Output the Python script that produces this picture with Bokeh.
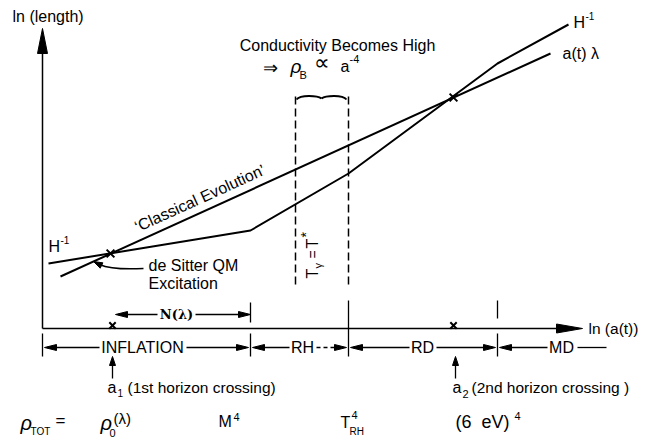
import math
from bokeh.plotting import figure
from bokeh.models import Range1d
from bokeh.core.properties import value
from bokeh.embed import file_html
from bokeh.resources import INLINE

# ---------------- schematic data (ln units, origin at the axes crossing) -------------
epoch_names = ["INFLATION", "RH", "RD", "MD"]
epoch_edges = [0, 208, 306, 455, 564]
epoch_label_x = [100, 260, 380, 519]
timeline_y = -19

# comoving length a(t)*lambda : straight line
al_x = [18, 508]
al_y = [52, 275]
# Hubble length H^-1 : flat during inflation, then steeper (RH, RD, MD)
h_x = [6, 208, 306, 455, 526]
h_y = [65, 98, 155, 265, 304]
# horizon crossings
cross_x = [68, 411]
cross_y = [75, 231]
axis_mark_x = [70, 411]

# dashed window (T_gamma = T_*)
win_x = [253, 306]
win_top, win_bot = 232, 40

FONT = "Liberation Sans"
NB = "\u00a0"

p = figure(width=647, height=443, x_range=Range1d(-42, 605), y_range=Range1d(-115, 328),
           output_backend="svg", toolbar_location=None, x_axis_type=None, y_axis_type=None,
           min_border=0, outline_line_color=None)
p.min_border_left = p.min_border_right = p.min_border_top = p.min_border_bottom = 0
p.background_fill_color = "white"

heads_x, heads_y = [], []


def head(tx, ty, dx, dy, L=12, W=3):
    n = math.hypot(dx, dy)
    ux, uy = dx / n, dy / n
    bx, by = tx - ux * L, ty - uy * L
    px, py = -uy * W, ux * W
    heads_x.append([tx, bx + px, bx - px])
    heads_y.append([ty, by + py, by - py])


def txt(x, y, s, size=16, align="left", baseline="middle", angle=0.0, font=FONT,
        style="normal"):
    p.text(x=[x], y=[y], text=[s], text_font=value(font), text_font_size=f"{size}px",
           text_align=align, text_baseline=baseline, angle=angle, text_color="black",
           text_font_style=style)


# ---------------- axes ----------------
p.line([0, 0], [0, 290], line_color="black", line_width=1.5)
head(0, 300, 0, 1, L=25, W=5)
p.line([0, 530], [0, 0], line_color="black", line_width=1.5)
head(540, 0, 1, 0, L=26, W=4.5)
txt(-30, 312, "ln (length)", 16)
txt(546, 0, "ln (a(t))", 15.5)

# ---------------- curves ----------------
p.line(al_x, al_y, line_color="black", line_width=2)
p.line(h_x, h_y, line_color="black", line_width=2)
p.scatter(cross_x, cross_y, marker="x", size=11, line_color="black", line_width=2)
p.scatter(axis_mark_x, [3, 3], marker="x", size=9, line_color="black", line_width=2)

txt(6, 82, "H", 16)
txt(18, 89, "-1", 10)
txt(531, 306, "H", 16)
txt(543, 313, "-1", 10)
txt(520, 275, "a(t) λ", 16)

ang = math.atan2(al_y[1] - al_y[0], al_x[1] - al_x[0])
cx = 163
cy = al_y[0] + (cx - al_x[0]) * math.tan(ang)
off = 5
txt(cx - off * math.sin(ang), cy + off * math.cos(ang), "‘Classical Evolution’", 16,
    align="center", baseline="bottom", angle=ang)

# de Sitter annotation with curved arrow
txt(106, 63, "de Sitter QM", 16)
txt(106, 45, "Excitation", 16)
p.bezier(x0=[101], y0=[60], x1=[57], y1=[64], cx0=[82], cy0=[59], cx1=[66], cy1=[60],
         line_color="black", line_width=1.5)
head(51, 67, -1, 0.5, L=9, W=3)

# ---------------- dashed window ----------------
for wx in win_x:
    p.line([wx, wx], [win_top, win_bot], line_color="black", line_width=1.5, line_dash="8 4")
p.bezier(x0=[254, 279], y0=[229, 230], x1=[279, 304], y1=[230, 229],
         cx0=[258, 283], cy0=[234, 233], cx1=[275, 300], cy1=[233, 234],
         line_color="black", line_width=2)
txt(295, 283, "Conductivity Becomes High", 16, align="center")
txt(220, 261, "⇒", 18)
txt(248, 262, "ρ", 19, style="italic")
txt(257, 254, "B", 11)
txt(271, 266, "∝", 22)
txt(298, 262, "a", 16)
txt(307, 270, "-4", 11)
# T_gamma = T_*
R = math.pi / 2
txt(270, 50, "T", 16, angle=R)
txt(275, 60, "γ", 11, angle=R)
txt(270, 70, "=", 14, angle=R)
txt(270, 80, "T", 16, angle=R)
txt(263, 91, "*", 14, angle=R)

# ---------------- epoch ticks ----------------
p.segment(x0=[208, 306, 455, 0, 208, 455], y0=[6, 28, 28, -5, -5, -5],
          x1=[208, 306, 455, 0, 208, 455], y1=[26, -28, 10, -28, -28, -28],
          line_color="black", line_width=1.3)

# N(lambda)
txt(134, 14, "N(λ)", 13, align="center", font="DejaVu Serif", style="bold")
p.segment(x0=[115, 153], y0=[14, 14], x1=[76, 205], y1=[14, 14], line_color="black",
          line_width=1.3)
head(73, 14, -1, 0)
head(208, 14, 1, 0)

# timeline
ty = timeline_y
for name, cxl in zip(epoch_names, epoch_label_x):
    txt(cxl, ty, name, 16, align="center")
p.segment(x0=[57, 144, 247, 367, 394, 505, 535], y0=[ty] * 7,
          x1=[5, 203, 213, 311, 450, 460, 564], y1=[ty] * 7,
          line_color="black", line_width=1.3)
p.line([274, 301], [ty, ty], line_color="black", line_width=1.3, line_dash="4 3")
head(2, ty, -1, 0)
head(206, ty, 1, 0)
head(210, ty, -1, 0)
head(304, ty, 1, 0)
head(308, ty, -1, 0)
head(453, ty, 1, 0)
head(457, ty, -1, 0)

# horizon crossing pointers
p.segment(x0=[70, 413], y0=[-50, -50], x1=[70, 413], y1=[-33, -33], line_color="black",
          line_width=1.3)
head(70, -28, 0, 1, L=9, W=3)
head(413, -28, 0, 1, L=9, W=3)
txt(65, -59, "a", 16)
txt(75, -64, "1", 10)
txt(85, -59, "(1st horizon crossing)", 15.5)
txt(410, -59, "a", 16)
txt(420, -65, "2", 11)
txt(429, -59, "(2nd horizon crossing" + NB + ")", 15.5)

# densities
txt(-22, -94, "ρ", 20, style="italic")
txt(-12, -103, "TOT", 10)
txt(13, -92, "=", 17)
txt(58, -94, "ρ", 20, style="italic")
txt(67, -104, "0", 11)
txt(71, -90, "(λ)", 15)
txt(176, -93, "M", 16)
txt(191, -88, "4", 11)
txt(298, -94, "T", 16)
txt(309, -86, "4", 11)
txt(307, -103, "RH", 10)
txt(413, -93, "(6" + NB + NB + "eV)", 18)
txt(472, -87, "4", 11)

p.patches(heads_x, heads_y, fill_color="black", line_color="black", line_width=1)

open("out.html", "w").write(file_html(p, INLINE))
